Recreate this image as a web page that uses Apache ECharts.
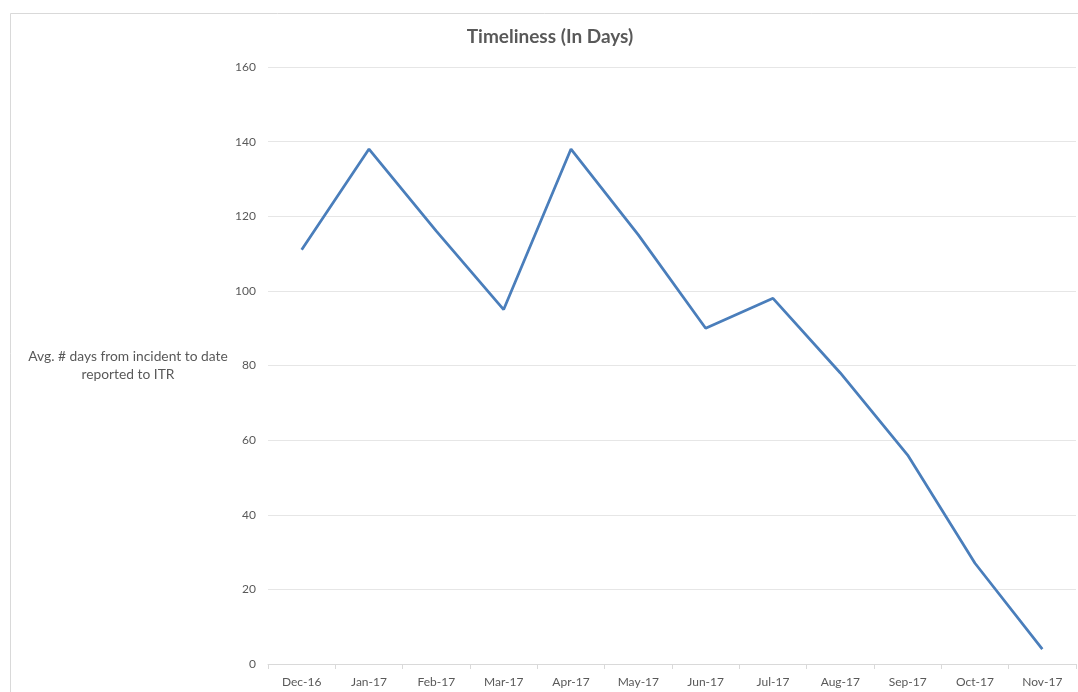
<!DOCTYPE html>
<html>
<head>
<meta charset="utf-8">
<script src="https://cdn.jsdelivr.net/npm/echarts@6/dist/echarts.min.js"></script>
<style>html,body{margin:0;padding:0;background:#fff}#c{width:1078px;height:692px}</style>
</head>
<body>
<div id="c"></div>
<script>
var categories = ['Dec-16','Jan-17','Feb-17','Mar-17','Apr-17','May-17','Jun-17','Jul-17','Aug-17','Sep-17','Oct-17','Nov-17'];
var avgDays = [111, 138, 116, 95, 138, 115, 90, 98, 78, 56, 27, 4];
var yTicks = {min: 0, max: 160, interval: 20};
var titleText = 'Timeliness (In Days)';
var yLabelText = 'Avg. # days from incident to date\nreported to ITR';

var chart = echarts.init(document.getElementById('c'));
chart.setOption({
  animation: false,
  backgroundColor: '#fff',
  graphic: [
    {type: 'rect', left: 8, top: 11, shape: {width: 1100, height: 720}, style: {fill: 'none', stroke: '#d9d9d9', lineWidth: 1}, silent: true},
    {type: 'text', x: 550, y: 37, style: {text: titleText, textAlign: 'center', textVerticalAlign: 'middle', font: 'bold 19px Lato', fill: '#595959'}},
    {type: 'text', x: 128, y: 366, style: {text: yLabelText, textAlign: 'center', textVerticalAlign: 'middle', font: '13.8px Lato', fill: '#595959', lineHeight: 18}}
  ],
  grid: {left: 268, right: 2, top: 67, bottom: 28},
  xAxis: {
    type: 'category', data: categories, boundaryGap: true,
    axisLine: {lineStyle: {color: '#d9d9d9'}},
    axisTick: {show: true, length: 5, lineStyle: {color: '#d9d9d9'}},
    axisLabel: {color: '#595959', fontFamily: 'Lato', fontSize: 12, margin: 12}
  },
  yAxis: {
    type: 'value', min: yTicks.min, max: yTicks.max, interval: yTicks.interval,
    axisLine: {show: false}, axisTick: {show: false},
    axisLabel: {color: '#595959', fontFamily: 'Lato', fontSize: 12, margin: 12},
    splitLine: {lineStyle: {color: '#e6e6e6'}}
  },
  series: [{
    type: 'line', data: avgDays, symbol: 'none',
    lineStyle: {color: '#4a7ebb', width: 2.75}
  }]
});
</script>
</body>
</html>
